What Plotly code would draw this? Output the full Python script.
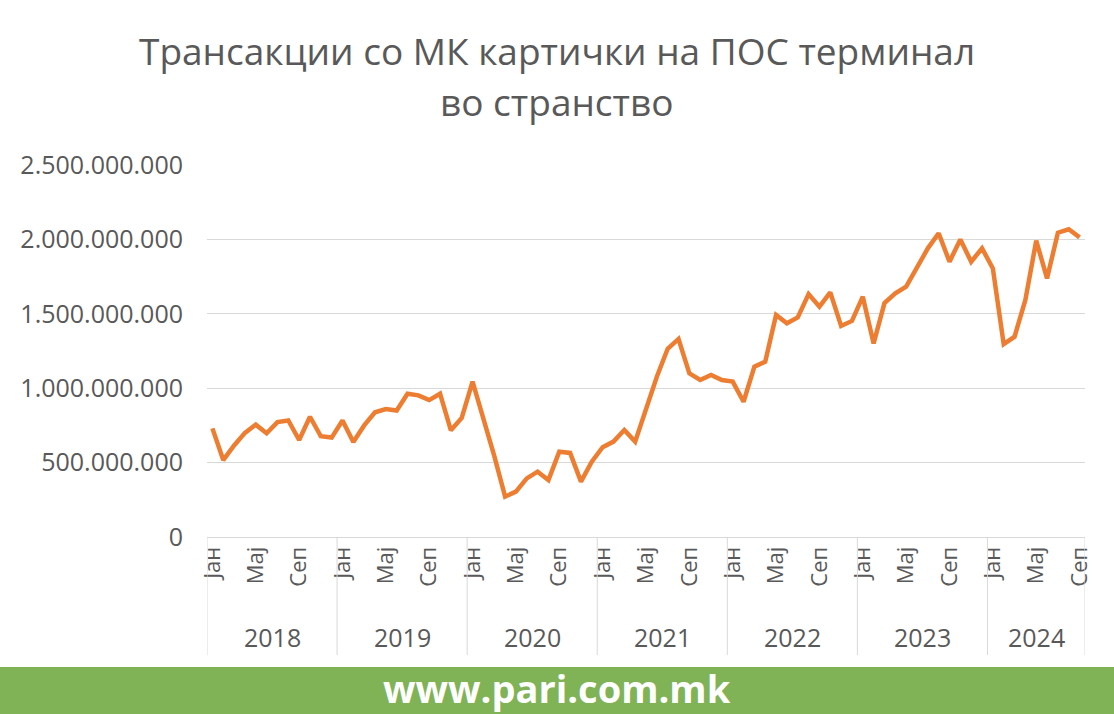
import plotly.graph_objects as go

years = ["2018", "2019", "2020", "2021", "2022", "2023", "2024"]
month_names = ["Јан", "Фев", "Мар", "Апр", "Мај", "Јун", "Јул", "Авг", "Сеп", "Окт", "Ное", "Дек"]

# values in millions of denars, monthly Jan 2018 - Sep 2024
v2018 = [730, 517, 615, 700, 755, 697, 772, 783, 652, 808, 677, 668]
v2019 = [783, 638, 750, 838, 860, 850, 963, 952, 920, 963, 717, 800]
v2020 = [1044, 800, 545, 271, 305, 394, 439, 383, 573, 565, 372, 506]
v2021 = [603, 641, 719, 641, 853, 1077, 1265, 1331, 1100, 1055, 1089, 1055]
v2022 = [1044, 909, 1145, 1178, 1492, 1436, 1476, 1633, 1548, 1644, 1418, 1452]
v2023 = [1615, 1301, 1572, 1637, 1682, 1817, 1940, 2041, 1850, 2000, 1850, 1940]
v2024 = [1805, 1297, 1346, 1593, 1991, 1738, 2045, 2068, 2014]

series = [v2018, v2019, v2020, v2021, v2022, v2023, v2024]
values = [m * 1e6 for s in series for m in s]
labels = []
for yi, s in enumerate(series):
    for mi in range(len(s)):
        labels.append(month_names[mi])
xs = list(range(len(values)))

title_lines = ["Трансакции со МК картички на ПОС терминал", "во странство"]
footer = "www.pari.com.mk"

grey = "#595959"
font = "Open Sans"

fig = go.Figure()
fig.add_trace(go.Scatter(
    x=xs, y=values, mode="lines",
    line=dict(color="#ED7D31", width=4.5),
    hoverinfo="skip", showlegend=False,
))

tickvals = [i for i, l in enumerate(labels) if l in ("Јан", "Мај", "Сеп")]
ticktext = [labels[i] for i in tickvals]

shapes = []
annotations = []
start = 0
H = 372.0
W = 878.0
for yi, s in enumerate(series):
    n = len(s)
    annotations.append(dict(
        x=start + (n - 1) / 2, y=-100 / H, xref="x", yref="paper", text=years[yi],
        showarrow=False, font=dict(family=font, size=25, color=grey), yanchor="middle",
    ))
    shapes.append(dict(type="line", xref="x", yref="paper",
                       x0=start - 0.5, x1=start - 0.5, y0=0, y1=-118 / H,
                       line=dict(color="#d9d9d9", width=1)))
    start += n
shapes.append(dict(type="line", xref="x", yref="paper",
                   x0=start - 0.5, x1=start - 0.5, y0=0, y1=-118 / H,
                   line=dict(color="#d9d9d9", width=1)))

# title lines
for ty, line in zip([50, 102], title_lines):
    annotations.append(dict(
        x=(557 - 207) / W, y=(537 - ty) / H, xref="paper", yref="paper",
        text=line, showarrow=False, xanchor="center", yanchor="middle",
        font=dict(family=font, size=37, color=grey),
    ))

# footer band
shapes.append(dict(type="rect", xref="paper", yref="paper",
                   x0=-0.3, x1=1.1, y0=(537 - 667) / H, y1=(537 - 720) / H,
                   fillcolor="#7fb356", line=dict(width=0), layer="above"))
annotations.append(dict(
    x=(557 - 207) / W, y=(537 - 688) / H, xref="paper", yref="paper",
    text="<b>" + footer + "</b>", showarrow=False,
    font=dict(family=font, size=38, color="white"), yanchor="middle", xanchor="center",
))

fig.update_layout(
    width=1114, height=714,
    margin=dict(l=207, r=29, t=165, b=177),
    paper_bgcolor="white", plot_bgcolor="white",
    separators=",.",
    xaxis=dict(range=[-0.5, len(values) - 0.5], tickmode="array",
               tickvals=tickvals, ticktext=ticktext, tickangle=-90,
               tickfont=dict(family=font, size=22, color=grey),
               showgrid=False, zeroline=False, showline=True,
               linecolor="#d9d9d9", linewidth=1, ticks=""),
    yaxis=dict(range=[0, 2.5e9], dtick=5e8, tickformat=",d",
               tickfont=dict(family=font, size=25, color=grey),
               gridcolor="#d9d9d9", gridwidth=1, zeroline=False,
               showline=False, ticks="", ticklabelstandoff=23),
    shapes=shapes, annotations=annotations,
)

fig.write_html("out.html", config={"displayModeBar": False},
               post_script="document.body.style.margin='0';document.body.style.overflow='hidden';")
